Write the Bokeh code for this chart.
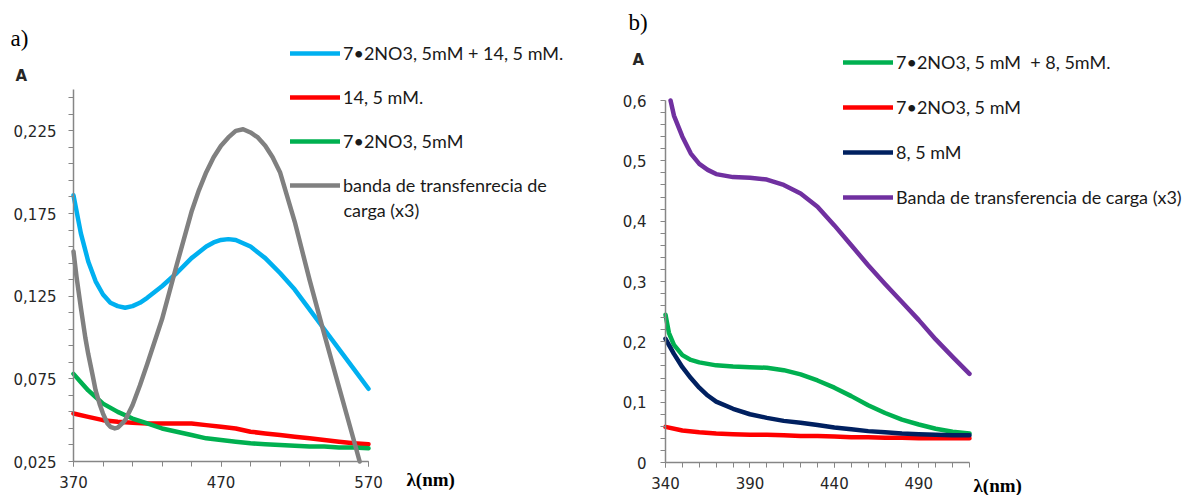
from bokeh.plotting import figure
from bokeh.layouts import row
from bokeh.models import (FixedTicker, CustomJSTickFormatter, Label, Legend,
                          LegendItem, Range1d, LinearAxis)
from bokeh.embed import file_html
from bokeh.resources import INLINE

# ---------------- Panel a) data ----------------
a_mix_wl = [370, 375, 380, 385, 390, 395, 400, 405, 410, 415, 420, 430, 440, 450,
            460, 465, 470, 475, 480, 485, 490, 500, 510, 520, 530, 540, 550, 560, 570]
a_mix = [0.186, 0.163, 0.146, 0.134, 0.126, 0.121, 0.119, 0.118, 0.119, 0.121,
         0.124, 0.131, 0.139, 0.148, 0.155, 0.1575, 0.159, 0.1595, 0.159, 0.157,
         0.155, 0.148, 0.139, 0.129, 0.117, 0.105, 0.093, 0.081, 0.069]

a_14_wl = [370, 380, 390, 400, 410, 420, 430, 440, 450, 460, 470, 480, 490, 500,
           510, 520, 530, 540, 550, 560, 570]
a_14 = [0.054, 0.052, 0.050, 0.049, 0.0485, 0.048, 0.048, 0.048, 0.048, 0.047,
        0.046, 0.045, 0.043, 0.042, 0.041, 0.040, 0.039, 0.038, 0.037, 0.036, 0.0355]

a_7_wl = [370, 375, 380, 385, 390, 400, 410, 420, 430, 440, 450, 460, 470, 480, 490,
          500, 510, 520, 530, 540, 550, 560, 570]
a_7 = [0.078, 0.073, 0.068, 0.064, 0.060, 0.055, 0.051, 0.048, 0.045, 0.043, 0.041,
       0.039, 0.038, 0.037, 0.036, 0.0355, 0.035, 0.0345, 0.034, 0.034, 0.0335,
       0.0335, 0.033]

a_band_wl = [370, 372, 375, 378, 380, 383, 385, 388, 390, 393, 395, 398, 400, 403,
             405, 410, 415, 420, 430, 440, 450, 455, 460, 465, 470, 475, 480, 485,
             490, 495, 500, 505, 510, 520, 530, 540, 550, 560, 564]
a_band = [0.152, 0.137, 0.118, 0.100, 0.090, 0.077, 0.068, 0.059, 0.054, 0.048,
          0.046, 0.045, 0.0455, 0.048, 0.050, 0.059, 0.071, 0.084, 0.111, 0.144,
          0.176, 0.189, 0.200, 0.209, 0.216, 0.221, 0.225, 0.226, 0.224, 0.221,
          0.216, 0.209, 0.200, 0.170, 0.135, 0.102, 0.070, 0.038, 0.025]

a_labels = ["7\u20222NO3, 5mM + 14, 5 mM.", "14, 5 mM.", "7\u20222NO3, 5mM",
            "banda de transfenrecia de", "carga (x3)"]
a_xticks = [370, 470, 570]
a_xminor = [370, 390, 410, 430, 450, 470, 490, 510, 530, 550, 570]
a_yticks = [0.025, 0.075, 0.125, 0.175, 0.225]
a_yminor = [0.035, 0.045, 0.055, 0.065, 0.085, 0.095, 0.105, 0.115, 0.135, 0.145,
            0.155, 0.165, 0.185, 0.195, 0.205, 0.215, 0.235, 0.245]

# ---------------- Panel b) data ----------------
b_mix_wl = [340, 342, 345, 350, 355, 360, 370, 380, 390, 400, 410, 420, 430, 440,
            450, 460, 470, 480, 490, 500, 510, 520]
b_mix = [0.245, 0.215, 0.195, 0.178, 0.170, 0.166, 0.161, 0.159, 0.158, 0.157,
         0.153, 0.146, 0.136, 0.124, 0.110, 0.095, 0.082, 0.071, 0.063, 0.056,
         0.051, 0.048]

b_7_wl = [340, 350, 360, 370, 380, 390, 400, 410, 420, 430, 440, 450, 460, 470,
          480, 490, 500, 510, 520]
b_7 = [0.059, 0.053, 0.050, 0.048, 0.047, 0.046, 0.046, 0.045, 0.044, 0.044,
       0.043, 0.042, 0.042, 0.041, 0.041, 0.040, 0.040, 0.040, 0.040]

b_8_wl = [340, 345, 350, 355, 360, 365, 370, 380, 390, 400, 410, 420, 430, 440, 450,
          460, 470, 480, 490, 500, 510, 520]
b_8 = [0.205, 0.180, 0.158, 0.140, 0.124, 0.111, 0.101, 0.089, 0.080, 0.074, 0.069,
       0.066, 0.062, 0.058, 0.055, 0.052, 0.050, 0.048, 0.047, 0.046, 0.045, 0.045]

b_band_wl = [343, 345, 350, 355, 360, 365, 370, 380, 390, 400, 410, 420, 430, 440,
             450, 460, 470, 480, 490, 500, 510, 520]
b_band = [0.600, 0.575, 0.540, 0.512, 0.495, 0.485, 0.478, 0.473, 0.472, 0.469,
          0.460, 0.446, 0.424, 0.393, 0.360, 0.327, 0.296, 0.266, 0.236, 0.204,
          0.175, 0.147]

b_labels = ["7\u20222NO3, 5 mM  + 8, 5mM.", "7\u20222NO3, 5 mM", "8, 5 mM",
            "Banda de transferencia de carga (x3)"]
b_xticks = [340, 390, 440, 490]
b_xminor = list(range(340, 521, 10))
b_yticks = [0.0, 0.1, 0.2, 0.3, 0.4, 0.5, 0.6]
b_yminor = [0.02, 0.04, 0.06, 0.08, 0.12, 0.14, 0.16, 0.18, 0.22, 0.24, 0.26, 0.28,
            0.32, 0.34, 0.36, 0.38, 0.42, 0.44, 0.46, 0.48, 0.52, 0.54, 0.56, 0.58]

# ---------------- styles ----------------
C_BLUE = "#00B0F0"
C_RED = "#FF0000"
C_GREEN = "#00B050"
C_GRAY = "#808080"
C_NAVY = "#002060"
C_PURPLE = "#7030A0"
AXIS_COLOR = "#868686"
TICK_FONT = "DejaVu Sans"
LEG_FONT = "Lato"
LEG_SIZE = "18px"
LW = 4.5
W, H = 595, 495


def make_axis(fixed, bounds, ticks, minor, fmt=None):
    ax = LinearAxis(fixed_location=fixed, bounds=bounds,
                    ticker=FixedTicker(ticks=ticks, minor_ticks=minor))
    if fmt is not None:
        ax.formatter = CustomJSTickFormatter(code=fmt)
    ax.axis_line_color = AXIS_COLOR
    ax.axis_line_width = 1.5
    ax.major_tick_line_color = AXIS_COLOR
    ax.minor_tick_line_color = AXIS_COLOR
    ax.major_tick_in = 0
    ax.major_tick_out = 5
    ax.minor_tick_in = 0
    ax.minor_tick_out = 5
    ax.major_label_text_font = TICK_FONT
    ax.major_label_text_font_size = "15px"
    ax.major_label_text_color = "#262626"
    return ax


def make_fig(L, R, T, B, x0, x1, y0, y1):
    # frame covers the whole canvas; data ranges chosen so that the
    # plotting area [x0,x1]x[y0,y1] lands at screen box L..R, T..B
    kx = (x1 - x0) / (R - L)
    ky = (y1 - y0) / (B - T)
    p = figure(width=W, height=H, output_backend="svg", toolbar_location=None,
               x_range=Range1d(x0 - L * kx, x1 + (W - R) * kx),
               y_range=Range1d(y0 - (H - B) * ky, y1 + T * ky),
               x_axis_type=None, y_axis_type=None,
               min_border=0, min_border_left=0, min_border_right=0,
               min_border_top=0, min_border_bottom=0)
    p.xgrid.visible = False
    p.ygrid.visible = False
    p.outline_line_color = None

    def sx(s):
        return x0 + (s - L) * kx

    def sy(s):
        return y0 + (B - s) * ky
    return p, sx, sy


def style_legend(lg, sp):
    lg.glyph_width = 50
    lg.glyph_height = 20
    lg.label_height = 20
    lg.label_standoff = 3
    lg.spacing = sp
    lg.padding = 0
    lg.margin = 0
    lg.border_line_alpha = 0
    lg.background_fill_alpha = 0
    lg.label_text_font = LEG_FONT
    lg.label_text_font_size = LEG_SIZE
    lg.label_text_color = "#1a1a1a"


def add_line(p, x, y, color):
    return p.line(x, y, line_color=color, line_width=LW, line_join="round",
                  line_cap="round")


# ---------------- Figure a ----------------
a_x0, a_x1, a_y0, a_y1 = 370, 570, 0.025, 0.25
p1, ax_, ay_ = make_fig(73, 368, 89, 461, a_x0, a_x1, a_y0, a_y1)
xa = make_axis(a_y0, (a_x0, a_x1), a_xticks, a_xminor)
xa.major_label_standoff = 9
p1.add_layout(xa, "below")
ya = make_axis(a_x0, (a_y0, a_y1), a_yticks, a_yminor,
               "return tick.toFixed(3).replace('.', ',');")
ya.major_label_standoff = 12
p1.add_layout(ya, "left")

ra1 = add_line(p1, a_mix_wl, a_mix, C_BLUE)
ra2 = add_line(p1, a_14_wl, a_14, C_RED)
ra3 = add_line(p1, a_7_wl, a_7, C_GREEN)
ra4 = add_line(p1, a_band_wl, a_band, C_GRAY)

leg1 = Legend(items=[LegendItem(label=a_labels[0], renderers=[ra1]),
                     LegendItem(label=a_labels[1], renderers=[ra2]),
                     LegendItem(label=a_labels[2], renderers=[ra3]),
                     LegendItem(label=a_labels[3], renderers=[ra4])],
              location=(290, H - 196))
style_legend(leg1, 22)
p1.add_layout(leg1, "center")

p1.add_layout(Label(x=ax_(343), y=ay_(209), text=a_labels[4], text_font=LEG_FONT,
                    text_font_size=LEG_SIZE, text_baseline="middle", text_color="#1a1a1a"))
p1.add_layout(Label(x=ax_(10), y=ay_(38), text="a)", text_font="Liberation Serif",
                    text_font_size="23px", text_baseline="middle", text_color="black"))
p1.add_layout(Label(x=ax_(15), y=ay_(75), text="A", text_font="DejaVu Sans",
                    text_font_style="bold", text_font_size="15px",
                    text_baseline="middle", text_color="#262626"))
p1.add_layout(Label(x=ax_(406), y=ay_(479), text="\u03bb(nm)", text_font="Liberation Serif",
                    text_font_style="bold", text_font_size="19px",
                    text_baseline="middle", text_color="black"))

# ---------------- Figure b ----------------
b_x0, b_x1, b_y0, b_y1 = 340, 520, 0.0, 0.6
p2, bx_, by_ = make_fig(70, 374, 100, 462, b_x0, b_x1, b_y0, b_y1)
xb = make_axis(b_y0, (b_x0, b_x1), b_xticks, b_xminor)
xb.major_label_standoff = 9
p2.add_layout(xb, "below")
yb = make_axis(b_x0, (b_y0, b_y1), b_yticks, b_yminor,
               "return tick == 0 ? '0' : tick.toFixed(1).replace('.', ',');")
yb.major_label_standoff = 14
p2.add_layout(yb, "left")

rb1 = add_line(p2, b_mix_wl, b_mix, C_GREEN)
rb2 = add_line(p2, b_7_wl, b_7, C_RED)
rb3 = add_line(p2, b_8_wl, b_8, C_NAVY)
rb4 = add_line(p2, b_band_wl, b_band, C_PURPLE)

leg2 = Legend(items=[LegendItem(label=b_labels[0], renderers=[rb1]),
                     LegendItem(label=b_labels[1], renderers=[rb2]),
                     LegendItem(label=b_labels[2], renderers=[rb3]),
                     LegendItem(label=b_labels[3], renderers=[rb4])],
              location=(843 - 595, H - 208))
style_legend(leg2, 23)
p2.add_layout(leg2, "center")

p2.add_layout(Label(x=bx_(628 - 595), y=by_(22), text="b)", text_font="Liberation Serif",
                    text_font_size="23px", text_baseline="middle", text_color="black"))
p2.add_layout(Label(x=bx_(632 - 595), y=by_(59), text="A", text_font="DejaVu Sans",
                    text_font_style="bold", text_font_size="15px",
                    text_baseline="middle", text_color="#262626"))
p2.add_layout(Label(x=bx_(973 - 595), y=by_(485), text="\u03bb(nm)", text_font="Liberation Serif",
                    text_font_style="bold", text_font_size="19px",
                    text_baseline="middle", text_color="black"))

layout = row(p1, p2)
open("out.html", "w").write(file_html(layout, INLINE))
